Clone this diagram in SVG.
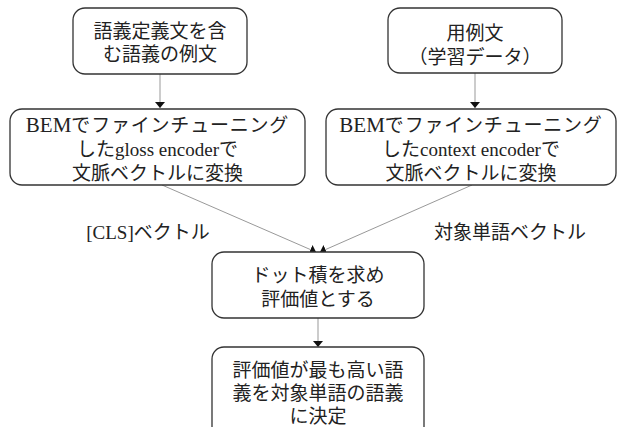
<svg xmlns="http://www.w3.org/2000/svg" width="617" height="427" viewBox="0 0 617 427">
<style>
.box{fill:#fff;stroke:#333;stroke-width:1.3}
.t{font-family:"Noto Sans CJK JP","Liberation Sans",sans-serif;font-size:19px;fill:#222;text-anchor:middle}
.s{font-family:"Liberation Serif","Noto Sans CJK JP",serif}
.b{font-family:"Liberation Serif","Noto Sans CJK JP",serif;font-size:21px}
.w{letter-spacing:0.8px}
.c{stroke:#999;stroke-width:1;fill:none;marker-end:url(#ah)}
</style>
<defs>
<marker id="ah" viewBox="0 0 6 10" refX="6" refY="5" markerWidth="6" markerHeight="10" markerUnits="userSpaceOnUse" orient="auto">
<path d="M0,0 L6,5 L0,10 Z" fill="#111"/>
</marker>
</defs>
<rect width="617" height="427" fill="#fff"/>
<g id="connectors">
<line class="c" x1="160" y1="74" x2="160" y2="108"/>
<line class="c" x1="475" y1="73" x2="475" y2="108"/>
<line class="c" x1="162" y1="185" x2="316" y2="252"/>
<line class="c" x1="472" y1="185" x2="320" y2="252"/>
<line class="c" x1="318" y1="318" x2="318" y2="347"/>
</g>
<g id="n1">
<rect class="box" x="73" y="8" width="174" height="66" rx="12"/>
<text class="t" x="160" y="38">語義定義文を含</text>
<text class="t" x="160" y="61">む語義の例文</text>
</g>
<g id="n2">
<rect class="box" x="388" y="8" width="174" height="65" rx="12"/>
<text class="t" x="475" y="40">用例文</text>
<text class="t" x="475" y="64">（学習データ）</text>
</g>
<g id="n3">
<rect class="box" x="10" y="109" width="295" height="76" rx="12"/>
<text class="t" x="157.5" y="132"><tspan class="b">BEM</tspan><tspan class="w">でファインチューニング</tspan></text>
<text class="t" x="157.5" y="156">した<tspan class="s">gloss encoder</tspan>で</text>
<text class="t" x="157.5" y="180">文脈ベクトルに変換</text>
</g>
<g id="n4">
<rect class="box" x="326" y="109" width="290" height="76" rx="12"/>
<text class="t" x="471" y="132"><tspan class="b">BEM</tspan><tspan class="w">でファインチューニング</tspan></text>
<text class="t" x="471" y="156">した<tspan class="s">context encoder</tspan>で</text>
<text class="t" x="471" y="180">文脈ベクトルに変換</text>
</g>
<g id="labels">
<text class="t" x="148" y="239"><tspan class="s">[CLS]</tspan>ベクトル</text>
<text class="t" x="510" y="239">対象単語ベクトル</text>
</g>
<g id="n5">
<rect class="box" x="212" y="252" width="212" height="66" rx="12"/>
<text class="t" x="318" y="282">ドット積を求め</text>
<text class="t" x="318" y="306">評価値とする</text>
</g>
<g id="n6">
<rect class="box" x="212" y="347" width="212" height="92" rx="12"/>
<text class="t" x="318" y="377">評価値が最も高い語</text>
<text class="t" x="318" y="400">義を対象単語の語義</text>
<text class="t" x="318" y="423">に決定</text>
</g>
</svg>
